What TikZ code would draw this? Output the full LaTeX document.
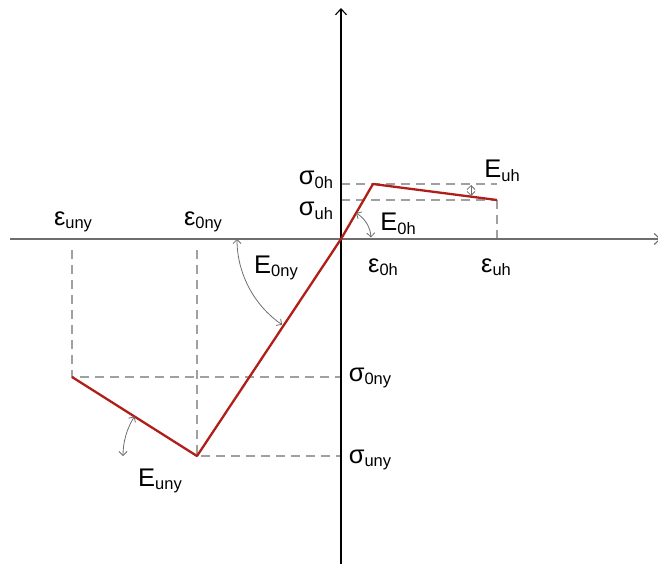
\documentclass[tikz,border=0pt]{standalone}
\usepackage{fontspec}
\setmainfont{Liberation Sans}
\usetikzlibrary{arrows.meta}
\definecolor{curve}{RGB}{175,30,25}
\definecolor{axisgray}{RGB}{110,110,110}
\definecolor{dashgray}{RGB}{160,160,160}
\newcommand{\sbs}[1]{\raisebox{-3.5pt}{\fontsize{16.5}{17}\selectfont #1}}
\tikzset{
  lbl/.style={font=\fontsize{25.5}{26}\selectfont, inner sep=0pt},
  redline/.style={curve, line width=2.3pt, line join=round},
  guide/.style={dashgray, line width=1.2pt, dash pattern=on 9pt off 6pt},
  arcarrow/.style={axisgray, line width=0.8pt, {Straight Barb[length=4pt,width=8pt]}-{Straight Barb[length=4pt,width=8pt]}},
  axisline/.style={line width=1.1pt, -{Straight Barb[length=6pt,width=11pt]}}
}
\begin{document}
\begin{tikzpicture}[x=1pt,y=-1pt]
\useasboundingbox (0,0) rectangle (658,564);
% key points
\coordinate (O) at (341,239);
\coordinate (P0h) at (373,184);
\coordinate (Puh) at (497,200);
\coordinate (P0ny) at (197,456);
\coordinate (Puny) at (72,377);
\coordinate (Atop) at (341,8);
\coordinate (Abot) at (341,564);
\coordinate (Aleft) at (10,239);
\coordinate (Aright) at (661,239);
% guides
\draw[guide] (341,184) -- (P0h) -- (497,184);
\draw[guide] (341,200) -- (Puh);
\draw[guide] (Puh) -- (497,239);
\draw[guide] (72,250) -- (Puny) -- (341,377);
\draw[guide] (197,250) -- (P0ny) -- (341,456);
% axes
\draw[axisline, axisgray] (Aleft) -- (Aright);
\draw[axisline, black] (Abot) -- (Atop);
% curve
\draw[redline] (Puny) -- (P0ny) -- (O) -- (P0h) -- (Puh);
% angle arcs
\draw[arcarrow] (O) ++(-59.8:30) arc[start angle=-59.8, end angle=-3, radius=30];
\draw[arcarrow] (O) ++(180:104) arc[start angle=180, end angle=124.5, radius=104];
\draw[arcarrow] (P0ny) ++(212.3:74) arc[start angle=212.3, end angle=180, radius=74];
\draw[arcarrow] (471,185) -- (471,196);
% labels
\node[lbl] (eu) at (73,222) {ε\sbs{uny}};
\node[lbl] (e0) at (203,222) {ε\sbs{0ny}};
\node[lbl] (E0ny) at (276,268) {E\sbs{0ny}};
\node[lbl] (s0ny) at (370,378) {σ\sbs{0ny}};
\node[lbl] (suny) at (370,460) {σ\sbs{uny}};
\node[lbl] (Euny) at (160,481) {E\sbs{uny}};
\node[lbl] (s0h) at (316,180) {σ\sbs{0h}};
\node[lbl] (suh) at (316,211) {σ\sbs{uh}};
\node[lbl] (E0h) at (398,224) {E\sbs{0h}};
\node[lbl] (e0h) at (383,267) {ε\sbs{0h}};
\node[lbl] (euh) at (496,267) {ε\sbs{uh}};
\node[lbl] (Euh) at (502,171) {E\sbs{uh}};
\end{tikzpicture}
\end{document}
